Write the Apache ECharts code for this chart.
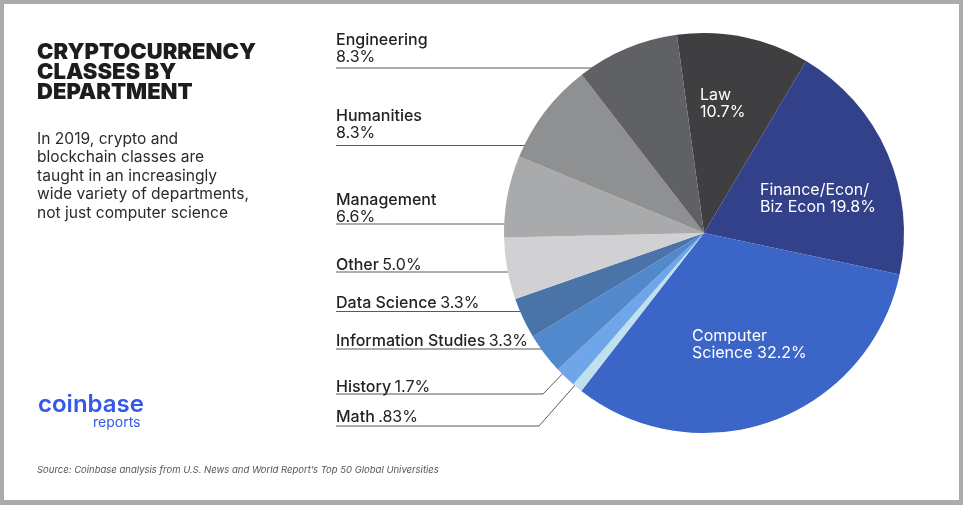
<!DOCTYPE html>
<html>
<head>
    <meta charset="utf-8">
    <title>Cryptocurrency classes by department</title>
    <script src="https://cdn.jsdelivr.net/npm/echarts@6/dist/echarts.min.js"></script>
    <style>
        html, body { margin: 0; padding: 0; background: #fff; }
        #chart { width: 963px; height: 505px; }
    </style>
</head>
<body>
<div id="chart"></div>
<script>
    // departments, clockwise from the top of the pie
    var departments = ['Law', 'Finance/Econ/Biz Econ', 'Computer Science', 'Math', 'History',
        'Information Studies', 'Data Science', 'Other', 'Management', 'Humanities', 'Engineering'];
    var shares = [10.7, 19.8, 32.2, 0.83, 1.7, 3.3, 3.3, 5.0, 6.6, 8.3, 8.3];
    var shareLabels = ['10.7%', '19.8%', '32.2%', '.83%', '1.7%', '3.3%', '3.3%', '5.0%', '6.6%', '8.3%', '8.3%'];

    var sliceColors = ['#3f3f41', '#33418a', '#3b66c8', '#bfe0ee', '#6ea6e9',
        '#5288cc', '#4a74a8', '#d1d1d3', '#a9aaab', '#8f9092', '#606165'];

    // label placement: wrap = white text inside the slice, stack = name over value, inline = one line
    var labelLayouts = [
        {mode: 'wrap', brk: 3, x: 700, y: 87},
        {mode: 'wrap', brk: 13, x: 760, y: 182},
        {mode: 'wrap', brk: 8, x: 692, y: 328},
        {mode: 'inline', x: 336, y: 426, line: [[576, 384], [539, 426], [336, 426]]},
        {mode: 'inline', x: 336, y: 396, line: [[572, 364], [543, 394], [336, 394]]},
        {mode: 'inline', x: 336, y: 350, line: [[551, 349], [336, 349]]},
        {mode: 'inline', x: 336, y: 312, line: [[528, 311.5], [336, 311.5]]},
        {mode: 'inline', x: 336, y: 274, line: [[572, 272], [336, 272]]},
        {mode: 'stack', x: 336, y: 226, line: [[572, 224], [336, 224]]},
        {mode: 'stack', x: 336, y: 142, line: [[572, 145.5], [336, 145.5]]},
        {mode: 'stack', x: 336, y: 66, line: [[625, 68], [336, 68]]}
    ];

    var pieData = departments.map(function (name, i) {
        var inside = labelLayouts[i].mode === 'wrap';
        return {
            name: name,
            value: shares[i],
            itemStyle: {color: sliceColors[i]},
            label: {position: inside ? 'inside' : 'outside'},
            labelLine: {show: !inside}
        };
    });

    var chart = echarts.init(document.getElementById('chart'), null, {renderer: 'canvas'});

    var option = {
        backgroundColor: '#ababab',
        animation: false,
        textStyle: {fontFamily: 'Inter'},
        graphic: [
            {type: 'rect', z: -10, shape: {x: 4, y: 4, width: 955, height: 496}, style: {fill: '#fff'}},
            {
                type: 'text', left: 37, top: 41, z: 10,
                style: {
                    text: 'CRYPTOCURRENCY\nCLASSES BY\nDEPARTMENT',
                    font: '900 22px Inter', lineHeight: 20, fill: '#1d1d1f'
                }
            },
            {
                type: 'text', left: 37, top: 130, z: 10,
                style: {
                    text: 'In 2019, crypto and\nblockchain classes are\ntaught in an increasingly\nwide variety of departments,\nnot just computer science',
                    font: '400 15.6px Inter', lineHeight: 18.5, fill: '#2b2b2b'
                }
            },
            {
                type: 'text', left: 38, top: 393, z: 10,
                style: {text: 'coinbase', font: '600 24px Inter', fill: '#3558e6'}
            },
            {
                type: 'text', left: 93, top: 416, z: 10,
                style: {text: 'reports', font: '400 14px Inter', fill: '#3558e6'}
            },
            {
                type: 'text', left: 37, top: 465, z: 10,
                style: {
                    text: 'Source: Coinbase analysis from U.S. News and World Report\u2019s Top 50 Global Universities',
                    font: 'italic 400 9.5px Inter', fill: '#555'
                }
            }
        ],
        series: [{
            type: 'pie',
            center: [704, 233],
            radius: 200,
            startAngle: 97.8,
            clockwise: true,
            avoidLabelOverlap: false,
            data: pieData,
            itemStyle: {borderWidth: 0},
            emphasis: {disabled: true},
            label: {
                align: 'left',
                formatter: function (p) {
                    var L = labelLayouts[p.dataIndex];
                    var val = shareLabels[p.dataIndex];
                    if (L.mode === 'wrap') {
                        var first = p.name.slice(0, L.brk).trim();
                        var rest = [p.name.slice(L.brk).trim(), val].filter(Boolean).join(' ');
                        return '{w|' + first + '}\n{w|' + rest + '}';
                    }
                    if (L.mode === 'stack') {
                        return '{n|' + p.name + '}\n{v|' + val + '}';
                    }
                    return '{n|' + p.name + '} {v|' + val + '}';
                },
                rich: {
                    w: {fontFamily: 'Inter', fontSize: 16, fontWeight: 400, color: '#fff', lineHeight: 17, align: 'left'},
                    n: {fontFamily: 'Inter', fontSize: 16, fontWeight: 500, color: '#222', lineHeight: 17, align: 'left'},
                    v: {fontFamily: 'Inter', fontSize: 16, fontWeight: 400, color: '#222', lineHeight: 17, align: 'left'}
                }
            },
            labelLine: {
                show: true,
                lineStyle: {color: '#5a5a5a', width: 1}
            },
            labelLayout: function (params) {
                var L = labelLayouts[params.dataIndex];
                var res = {
                    x: L.x,
                    y: L.y,
                    align: 'left',
                    verticalAlign: L.mode === 'wrap' ? 'top' : 'bottom'
                };
                if (L.line) res.labelLinePoints = L.line;
                return res;
            }
        }]
    };

    chart.setOption(option);
</script>
</body>
</html>
